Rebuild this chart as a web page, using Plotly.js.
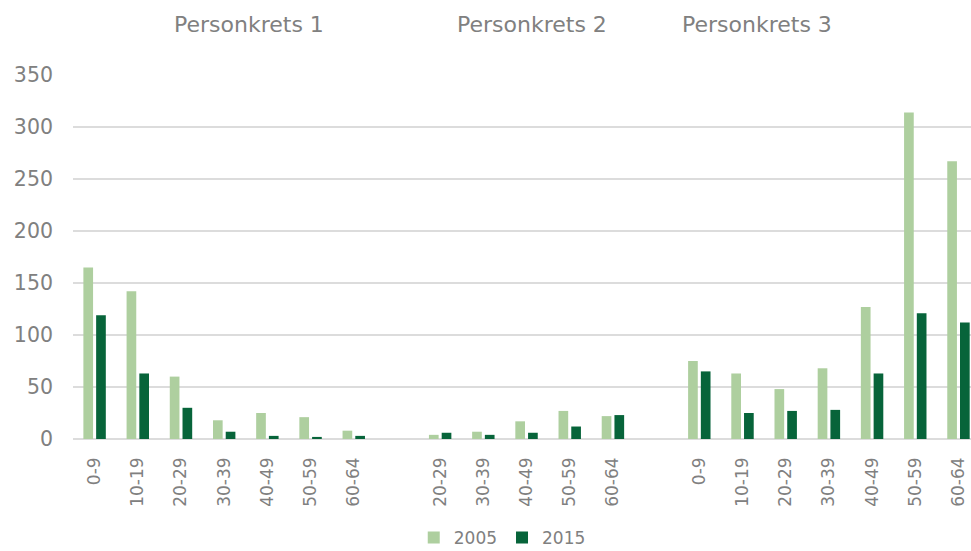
<!DOCTYPE html>
<html>
<head>
<meta charset="utf-8">
<script src="https://cdn.plot.ly/plotly-3.0.1.min.js"></script>
<style>html,body{margin:0;padding:0;background:#fff;}#chart{width:971px;height:551px;}</style>
</head>
<body>
<div id="chart"></div>
<script>
// ---- data ----
const groupNames = ['Personkrets 1', 'Personkrets 2', 'Personkrets 3'];
const ages1 = ['0-9', '10-19', '20-29', '30-39', '40-49', '50-59', '60-64'];
const ages2 = ['20-29', '30-39', '40-49', '50-59', '60-64'];
const ages3 = ['0-9', '10-19', '20-29', '30-39', '40-49', '50-59', '60-64'];
const y2005_g1 = [165, 142, 60, 18, 25, 21, 8];
const y2015_g1 = [119, 63, 30, 7, 3, 2, 3];
const y2005_g2 = [4, 7, 17, 27, 22];
const y2015_g2 = [6, 4, 6, 12, 23];
const y2005_g3 = [75, 63, 48, 68, 127, 314, 267];
const y2015_g3 = [65, 25, 27, 28, 63, 121, 112];
const seriesNames = ['2005', '2015'];

// ---- build positions (one empty slot between groups) ----
const groupsAges = [ages1, ages2, ages3];
const groups2005 = [y2005_g1, y2005_g2, y2005_g3];
const groups2015 = [y2015_g1, y2015_g2, y2015_g3];
let xs = [], labels = [], v05 = [], v15 = [];
let pos = 0;
groupsAges.forEach((ages, gi) => {
  ages.forEach((a, i) => {
    xs.push(pos); labels.push(a);
    v05.push(groups2005[gi][i]); v15.push(groups2015[gi][i]);
    pos++;
  });
  pos++; // gap slot
});

const font = 'DejaVu Sans, Liberation Sans, Arial, sans-serif';
const gray = '#808080';

const traces = [
  {type: 'bar', name: seriesNames[0], x: xs, y: v05, marker: {color: '#AECF9F'}, hoverinfo: 'x+y'},
  {type: 'bar', name: seriesNames[1], x: xs, y: v15, marker: {color: '#07643A'}, hoverinfo: 'x+y'}
];

const layout = {
  width: 971, height: 551,
  margin: {l: 73, r: 0, t: 75, b: 112.3, autoexpand: false},
  paper_bgcolor: '#fff', plot_bgcolor: '#fff',
  font: {family: font, color: gray},
  barmode: 'group', bargap: 0.41, bargroupgap: 0.24,
  showlegend: true,
  legend: {orientation: 'h', x: 0.478, xanchor: 'center', y: -0.272, yanchor: 'middle',
           font: {size: 17, color: gray, family: font}, itemwidth: 30, tracegroupgap: 0},
  xaxis: {
    range: [-0.5, 20.29], tickmode: 'array', tickvals: xs, ticktext: labels,
    tickangle: -90, tickfont: {size: 17, color: gray, family: font},
    showgrid: false, zeroline: false, showline: false, ticks: '', ticklabelstandoff: 14,
    automargin: false, fixedrange: true
  },
  yaxis: {
    range: [0, 350], dtick: 50, tick0: 0,
    tickfont: {size: 20.5, color: gray, family: font},
    gridcolor: '#DCDCDC', gridwidth: 1.5,
    zeroline: true, zerolinecolor: '#DCDCDC', zerolinewidth: 1.5,
    showline: false, ticks: '', ticklabelstandoff: 19, automargin: false, fixedrange: true
  },
  annotations: [
    {text: groupNames[0], xref: 'paper', yref: 'paper', x: 0.196, y: 1.14, xanchor: 'center', yanchor: 'middle', showarrow: false, font: {size: 22, color: gray, family: font}},
    {text: groupNames[1], xref: 'paper', yref: 'paper', x: 0.511, y: 1.14, xanchor: 'center', yanchor: 'middle', showarrow: false, font: {size: 22, color: gray, family: font}},
    {text: groupNames[2], xref: 'paper', yref: 'paper', x: 0.762, y: 1.14, xanchor: 'center', yanchor: 'middle', showarrow: false, font: {size: 22, color: gray, family: font}}
  ]
};

Plotly.newPlot('chart', traces, layout, {displayModeBar: false, staticPlot: true});
</script>
</body>
</html>
